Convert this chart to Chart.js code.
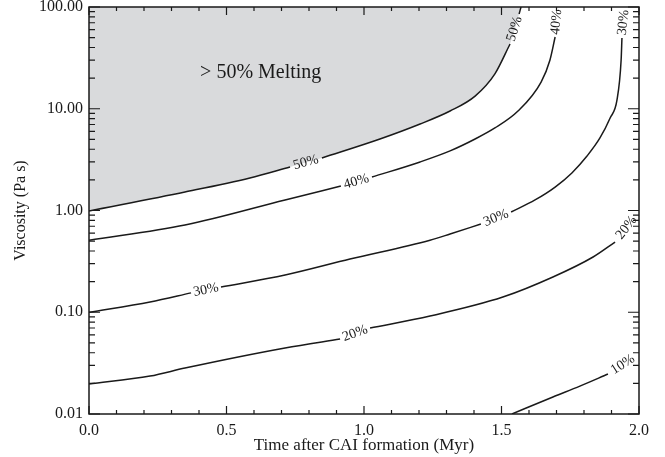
<!DOCTYPE html>
<html>
<head>
<meta charset="utf-8">
<script src="https://cdn.jsdelivr.net/npm/chart.js"></script>
<style>
  body { margin: 0; background: #fff; }
  canvas { display: block; }
</style>
</head>
<body>
<canvas id="chart" width="665" height="457"></canvas>
<script>
// melt fraction contours: time after CAI formation (Myr) vs viscosity (Pa s)
// a null value breaks the line where the level label is written
const time50 = [0, 0.349, 0.585, 0.731, 0.78, 0.847, 1.058, 1.204, 1.313, 1.404, 1.476, 1.531, 1.548, 1.564, 1.571];
const visc50 = [0.99, 1.52, 2.09, 2.68, null, 3.28, 5.04, 7.08, 9.5, 13.3, 22.0, 43.3, null, 85.4, 100];

const time40 = [0, 0.349, 0.713, 0.916, 0.97, 1.029, 1.204, 1.313, 1.404, 1.476, 1.56, 1.644, 1.676, 1.695, 1.70, 1.705];
const visc40 = [0.51, 0.72, 1.27, 1.74, null, 2.13, 3.0, 3.85, 5.04, 6.47, 9.5, 18.3, 30, 50.7, null, 100];

const time30 = [0, 0.222, 0.371, 0.425, 0.48, 0.713, 0.949, 1.24, 1.313, 1.425, 1.48, 1.535, 1.622, 1.695, 1.756, 1.811, 1.858, 1.895, 1.92, 1.935, 1.938, 1.945, 1.949];
const visc30 = [0.1, 0.126, 0.155, null, 0.177, 0.232, 0.333, 0.51, 0.587, 0.736, null, 0.966, 1.27, 1.70, 2.34, 3.43, 5.16, 8.11, 12.2, 30.1, 49.6, null, 100];

const time20 = [0, 0.222, 0.349, 0.713, 0.913, 0.97, 1.022, 1.24, 1.505, 1.687, 1.833, 1.913, 1.95, 1.996];
const visc20 = [0.0197, 0.0236, 0.0283, 0.0446, 0.0546, null, 0.070, 0.0918, 0.141, 0.222, 0.349, 0.49, null, 0.94];

const time10 = [1.538, 1.687, 1.785, 1.887, 1.94, 1.996];
const visc10 = [0.01, 0.0147, 0.0188, 0.0247, null, 0.038];

const levels = ["50%", "40%", "30%", "20%", "10%"];
const xTickValues = [0, 0.5, 1.0, 1.5, 2.0];
const xTickLabels = ["0.0", "0.5", "1.0", "1.5", "2.0"];
const yTickValues = [0.01, 0.1, 1, 10, 100];
const yTickLabels = ["0.01", "0.10", "1.00", "10.00", "100.00"];
const meltRegionText = "> 50% Melting";

const SERIF = "'Liberation Serif', 'Times New Roman', serif";
const INK = "#1a1a1a";

function points(t, v) {
  return t.map((x, i) => ({ x: x, y: v[i] }));
}

function contour(t, v, label) {
  return {
    type: "line",
    data: points(t, v),
    levelLabel: label,
    borderColor: INK,
    borderWidth: 1.5,
    pointRadius: 0,
    fill: false,
    spanGaps: false,
    cubicInterpolationMode: "monotone",
    order: 1,
  };
}

// gray region above the 50% line
const meltFill = {
  type: "line",
  data: points(time50, visc50).filter((p) => p.y !== null),
  borderWidth: 0,
  borderColor: "rgba(0,0,0,0)",
  backgroundColor: "#d9dadc",
  pointRadius: 0,
  fill: "end",
  cubicInterpolationMode: "monotone",
  order: 10,
};

// level labels written in the gaps of each line
const contourLabels = {
  id: "contourLabels",
  afterDatasetsDraw(chart) {
    const ctx = chart.ctx;
    const xs = chart.scales.x, ys = chart.scales.y;
    ctx.save();
    ctx.font = "14px " + SERIF;
    ctx.fillStyle = INK;
    ctx.textAlign = "center";
    ctx.textBaseline = "middle";
    chart.data.datasets.forEach((ds) => {
      if (!ds.levelLabel) return;
      ds.data.forEach((p, i) => {
        if (p.y !== null || i === 0 || i === ds.data.length - 1) return;
        const a = ds.data[i - 1], b = ds.data[i + 1];
        const x1 = xs.getPixelForValue(a.x), y1 = ys.getPixelForValue(a.y);
        const x2 = xs.getPixelForValue(b.x), y2 = ys.getPixelForValue(b.y);
        ctx.save();
        ctx.translate((x1 + x2) / 2, (y1 + y2) / 2);
        ctx.rotate(Math.atan2(y2 - y1, x2 - x1));
        ctx.fillText(ds.levelLabel, 0, 0);
        ctx.restore();
      });
    });
    // region label
    ctx.font = "20px " + SERIF;
    ctx.textAlign = "left";
    ctx.textBaseline = "alphabetic";
    ctx.fillText(meltRegionText, xs.getPixelForValue(0.404), ys.getPixelForValue(20));
    ctx.restore();
  },
};

// box and inward ticks on all four sides
const frameTicks = {
  id: "frameTicks",
  afterDraw(chart) {
    const ctx = chart.ctx;
    const a = chart.chartArea;
    const xs = chart.scales.x, ys = chart.scales.y;
    ctx.save();
    ctx.strokeStyle = INK;
    ctx.lineWidth = 1.5;
    ctx.strokeRect(a.left, a.top, a.right - a.left, a.bottom - a.top);
    ctx.lineWidth = 1.2;
    ctx.beginPath();
    for (let k = 0; k <= 20; k++) {
      const px = xs.getPixelForValue(k / 10);
      const len = k % 5 === 0 ? 8 : 4;
      ctx.moveTo(px, a.bottom); ctx.lineTo(px, a.bottom - len);
      ctx.moveTo(px, a.top); ctx.lineTo(px, a.top + len);
    }
    for (let d = -2; d <= 2; d++) {
      for (let m = 1; m <= 9; m++) {
        if (d === 2 && m > 1) break;
        const py = ys.getPixelForValue(m * Math.pow(10, d));
        const len = m === 1 ? 11 : 6;
        ctx.moveTo(a.left, py); ctx.lineTo(a.left + len, py);
        ctx.moveTo(a.right, py); ctx.lineTo(a.right - len, py);
      }
    }
    ctx.stroke();
    ctx.restore();
  },
};

function zeroPadding(scale) {
  scale.paddingTop = 0;
  scale.paddingBottom = 0;
  scale.paddingLeft = 0;
  scale.paddingRight = 0;
}

new Chart(document.getElementById("chart"), {
  data: {
    datasets: [
      meltFill,
      contour(time50, visc50, levels[0]),
      contour(time40, visc40, levels[1]),
      contour(time30, visc30, levels[2]),
      contour(time20, visc20, levels[3]),
      contour(time10, visc10, levels[4]),
    ],
  },
  options: {
    responsive: false,
    animation: false,
    layout: { padding: { top: 7, right: 26, left: 0, bottom: 0 } },
    plugins: { legend: { display: false }, tooltip: { enabled: false } },
    scales: {
      x: {
        type: "linear",
        min: 0,
        max: 2,
        grid: { display: false, drawTicks: false },
        border: { display: false },
        afterBuildTicks: (s) => { s.ticks = xTickValues.map((v) => ({ value: v })); },
        afterFit: (s) => { s.height = 43; zeroPadding(s); },
        ticks: {
          color: INK,
          padding: 7,
          maxRotation: 0,
          font: { family: SERIF, size: 16 },
          callback: (v, i) => xTickLabels[i],
        },
        title: {
          display: true,
          text: "Time after CAI formation (Myr)",
          color: INK,
          font: { family: SERIF, size: 17 },
          padding: { top: 0, bottom: 1 },
        },
      },
      y: {
        type: "logarithmic",
        min: 0.01,
        max: 100,
        grid: { display: false, drawTicks: false },
        border: { display: false },
        afterBuildTicks: (s) => { s.ticks = yTickValues.map((v) => ({ value: v })); },
        afterFit: (s) => { s.width = 89; zeroPadding(s); },
        ticks: {
          color: INK,
          padding: 6,
          font: { family: SERIF, size: 16 },
          callback: (v, i) => yTickLabels[i],
        },
        title: {
          display: true,
          text: "Viscosity (Pa s)",
          color: INK,
          font: { family: SERIF, size: 16 },
          padding: { top: 11, bottom: 0 },
        },
      },
    },
  },
  plugins: [contourLabels, frameTicks],
});
</script>
</body>
</html>
